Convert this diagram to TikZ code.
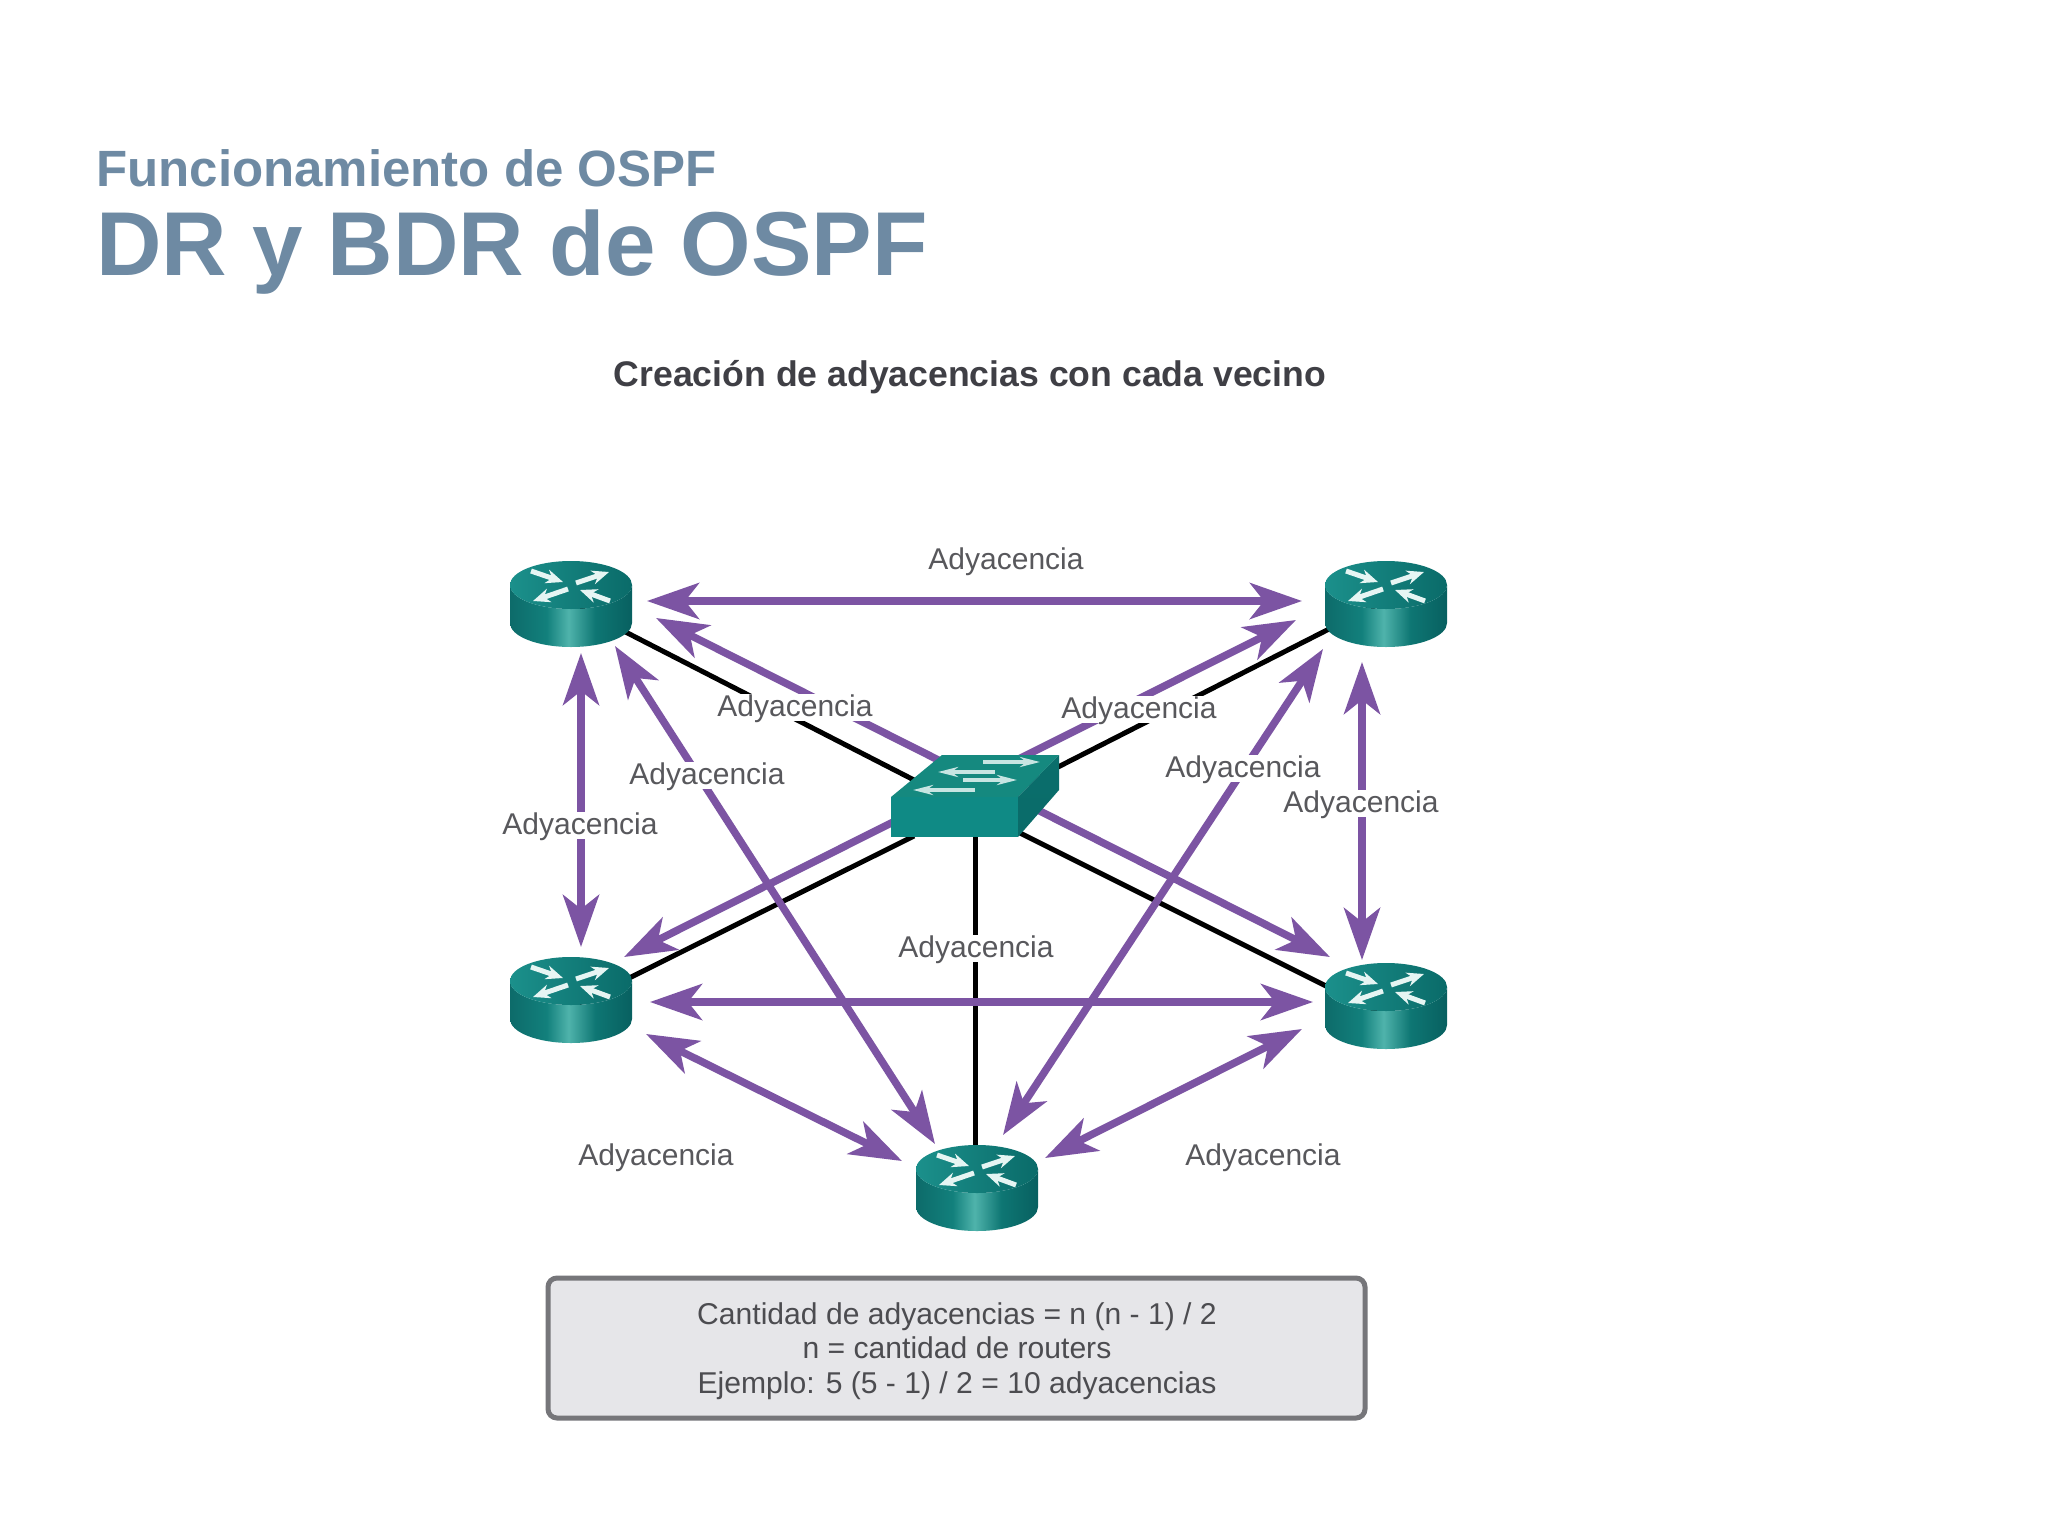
\documentclass[tikz,border=0pt]{standalone}
\usepackage{fontspec}
\setmainfont{Liberation Sans}
\usetikzlibrary{arrows.meta,calc}
\definecolor{titlecol}{HTML}{6E8AA3}
\definecolor{subcol}{HTML}{3F3F45}
\definecolor{adj}{HTML}{7C54A3}
\definecolor{labcol}{HTML}{58585C}
\definecolor{boxfill}{HTML}{E6E6E9}
\definecolor{boxline}{HTML}{76767A}
\definecolor{boxtext}{HTML}{4C4C50}
\definecolor{swfront}{HTML}{0F8A85}
\definecolor{swtop}{HTML}{15897F}
\definecolor{swside}{HTML}{0A6B69}
\definecolor{icon}{HTML}{E6F5F3}
\definecolor{rsa}{HTML}{0D6B6A}
\definecolor{rsb}{HTML}{12807C}
\definecolor{rsc}{HTML}{4FB3AB}
\definecolor{rsd}{HTML}{0E7673}
\definecolor{rse}{HTML}{086060}
\pgfdeclarehorizontalshading{routerside}{100bp}{color(0bp)=(rsa);color(25bp)=(rsa);color(40bp)=(rsb);color(49bp)=(rsc);color(60bp)=(rsd);color(75bp)=(rse);color(100bp)=(rse)}
\tikzset{
  x=1pt,y=-1pt,
  routerbox/.style={minimum width=122pt,minimum height=86pt,inner sep=0pt},
  switchbox/.style={minimum width=168pt,minimum height=82pt,inner sep=0pt},
  link/.style={line width=5pt,black},
  adjarrow/.style={line width=7.5pt,adj,{Stealth[length=52pt,width=36pt,inset=14pt]}-{Stealth[length=52pt,width=36pt,inset=14pt]}},
  adjlabel/.style={fill=white,text=labcol,inner xsep=1pt,inner ysep=0pt,text height=23pt,text depth=4pt,font=\fontsize{30}{34}\selectfont},
  iconarrow/.style={line width=5pt,icon,-{Stealth[length=17pt,width=14pt]}},
  swarrow/.style={line width=3.4pt,icon!85!swtop,-{Stealth[length=20pt,width=10pt]}},
}
\newcommand{\routerpaint}[2]{%
  \begin{scope}[shift={(#1,#2)}]
    \path[shading=routerside] (-61,-19) arc[start angle=180,end angle=360,x radius=61pt,y radius=24pt] -- (61,-19) -- (61,19) arc[start angle=0,end angle=-180,x radius=61pt,y radius=24pt] -- cycle;
    \shade[left color=swfront!95!white,right color=swside] (0,-19) ellipse[x radius=61pt,y radius=24pt];
    \draw[iconarrow] (-40,-33) -- (-8,-22);
    \draw[iconarrow] (5,-21) -- (38,-32);
    \draw[iconarrow] (-3,-15) -- (-38,-3);
    \draw[iconarrow] (39,-3) -- (9,-14);
  \end{scope}}
\begin{document}
\begin{tikzpicture}
\useasboundingbox (0,0) rectangle (2048,1536);
\fill[white] (0,0) rectangle (2048,1536);
% titles
\node[anchor=base west,inner sep=0pt,text=titlecol,font=\fontsize{51}{56}\selectfont\bfseries] (t1) at (96,186) {Funcionamiento de OSPF};
\node[anchor=base west,inner sep=0pt,text=titlecol,font=\fontsize{90.7}{96}\selectfont\bfseries] (t2) at (96,275) {DR y BDR de OSPF};
\node[anchor=base,inner sep=0pt,text=subcol,font=\fontsize{35.6}{40}\selectfont\bfseries] (t3) at (970,386) {Creación de adyacencias con cada vecino};
% device nodes
\node[routerbox] (r1) at (571,604) {};
\node[routerbox] (r2) at (1386,604) {};
\node[routerbox] (r3) at (571,1000) {};
\node[routerbox] (r4) at (1386,1006) {};
\node[routerbox] (r5) at (977,1188) {};
\node[switchbox] (sw) at (975,796) {};
% cables
\draw[link] (r1.center) -- ($(sw)+(-61,-16)$);
\draw[link] ($(r2)+(0,-4)$) -- ($(sw)+(83,-29)$);
\draw[link] ($(r3)+(0,7)$) -- ($(sw)+(-61,40)$);
\draw[link] ($(r4)+(0,10)$) -- ($(sw)+(43,36)$);
\draw[link] ($(sw)+(0,30)$) -- ($(r5)+(-2,0)$);
% adjacencies
\draw[adjarrow] ($(r1)+(76,-3)$) -- ($(r2)+(-84,-3)$);
\draw[adjarrow] ($(r1)+(85,14)$) -- ($(r4)+(-56,-49)$);
\draw[adjarrow] ($(r2)+(-90,16)$) -- ($(r3)+(53,-43)$);
\draw[adjarrow] ($(r1)+(10,49)$) -- ($(r3)+(10,-53)$);
\draw[adjarrow] ($(r1)+(44,42)$) -- ($(r5)+(-42,-44)$);
\draw[adjarrow] ($(r2)+(-63,45)$) -- ($(r5)+(26,-53)$);
\draw[adjarrow] ($(r2)+(-24,58)$) -- ($(r4)+(-24,-46)$);
\draw[adjarrow] ($(r3)+(79,2)$) -- ($(r4)+(-73,-4)$);
\draw[adjarrow] ($(r3)+(75,34)$) -- ($(r5)+(-75,-27)$);
\draw[adjarrow] ($(r4)+(-84,23)$) -- ($(r5)+(68,-30)$);
% switch
\fill[swtop] (891,797) -- (942,755) -- (1059,755) -- (1018,797) -- cycle;
\shade[top color=swside!90!swfront,bottom color=swside] (1018,797) -- (1059,755) -- (1059,790) -- (1018,837) -- cycle;
\fill[swfront] (891,797) rectangle (1018,837);
\draw[swarrow] (983,762) -- (1040,762);
\draw[swarrow] (995,772) -- (938,772);
\draw[swarrow] (963,780) -- (1017,780);
\draw[swarrow] (975,790) -- (913,790);
% routers
\routerpaint{571}{604}
\routerpaint{1386}{604}
\routerpaint{571}{1000}
\routerpaint{1386}{1006}
\routerpaint{977}{1188}
% labels
\node[adjlabel] (l1) at (1006,560) {Adyacencia};
\node[adjlabel] (l2) at (795,707) {Adyacencia};
\node[adjlabel] (l3) at (1139,709) {Adyacencia};
\node[adjlabel] (l4) at (707,775) {Adyacencia};
\node[adjlabel] (l5) at (1243,768) {Adyacencia};
\node[adjlabel] (l6) at (580,825) {Adyacencia};
\node[adjlabel] (l7) at (1361,803) {Adyacencia};
\node[adjlabel] (l8) at (976,948) {Adyacencia};
\node[adjlabel] (l9) at (656,1156) {Adyacencia};
\node[adjlabel] (l10) at (1263,1156) {Adyacencia};
% formula box
\draw[line width=5pt,boxline,fill=boxfill,rounded corners=9pt] (548,1278) rectangle (1365,1418);
\node[inner sep=0pt,align=center,text=boxtext,font=\fontsize{30.1}{34.4}\selectfont] (f) at (957,1351) {Cantidad de adyacencias = n (n - 1) / 2\\n = cantidad de routers\\Ejemplo: 5 (5 - 1) / 2 = 10 adyacencias};
\end{tikzpicture}
\end{document}
